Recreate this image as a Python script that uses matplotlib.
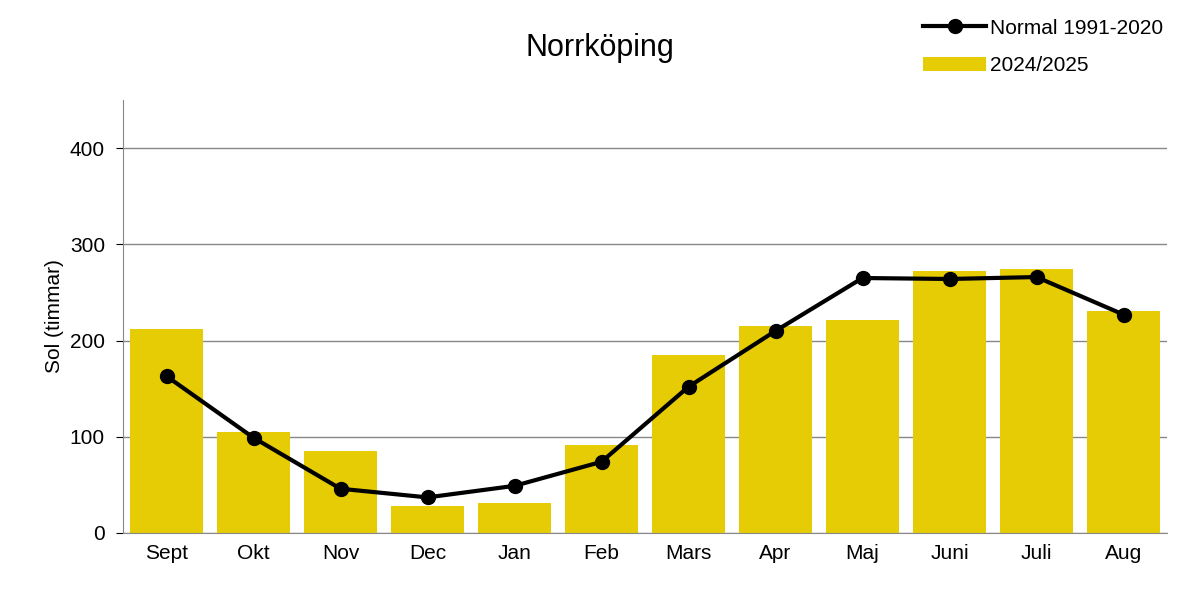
import matplotlib
matplotlib.use("Agg")
import matplotlib.pyplot as plt
import numpy as np

months = ["Sept", "Okt", "Nov", "Dec", "Jan", "Feb", "Mars", "Apr", "Maj", "Juni", "Juli", "Aug"]
sol_2024 = [212, 105, 85, 28, 31, 91, 185, 215, 221, 272, 274, 231]
normal = [163, 99, 46, 37, 49, 74, 152, 210, 265, 264, 266, 227]

plt.rcParams['font.family'] = ['Liberation Sans', 'DejaVu Sans']

fig = plt.figure(figsize=(12, 5.94), dpi=100)
ax = fig.add_axes([123/1200, 1 - 533/594, (1167-123)/1200, (533-100)/594])

x = np.arange(len(months))
ax.bar(x, sol_2024, width=0.84, color="#E5CC04", label="2024/2025", zorder=2)
ax.plot(x, normal, color="black", lw=3, marker="o", ms=10, label="Normal 1991-2020", zorder=3)

ax.set_xlim(-0.5, len(months) - 0.5)
ax.set_ylim(0, 450)
ax.set_yticks([0, 100, 200, 300, 400])
ax.set_xticks(x)
ax.set_xticklabels(months)
ax.tick_params(labelsize=15, length=0, pad=8)
ax.tick_params(axis='y', length=5, direction='out')
ax.yaxis.grid(True, color="#888888", lw=1, zorder=0)
for s in ["top", "right"]:
    ax.spines[s].set_visible(False)
ax.spines["left"].set_color("#888888")
ax.spines["bottom"].set_color("#888888")
ax.set_ylabel("Sol (timmar)", fontsize=15)

fig.text(0.5, 0.92, "Norrköping", ha="center", va="center", fontsize=22)
fig.legend(loc="upper right", bbox_to_anchor=(0.985, 1.0), frameon=False, fontsize=15,
           handlelength=3, labelspacing=0.9, handletextpad=0.2)

fig.savefig("out.png", dpi=100)
